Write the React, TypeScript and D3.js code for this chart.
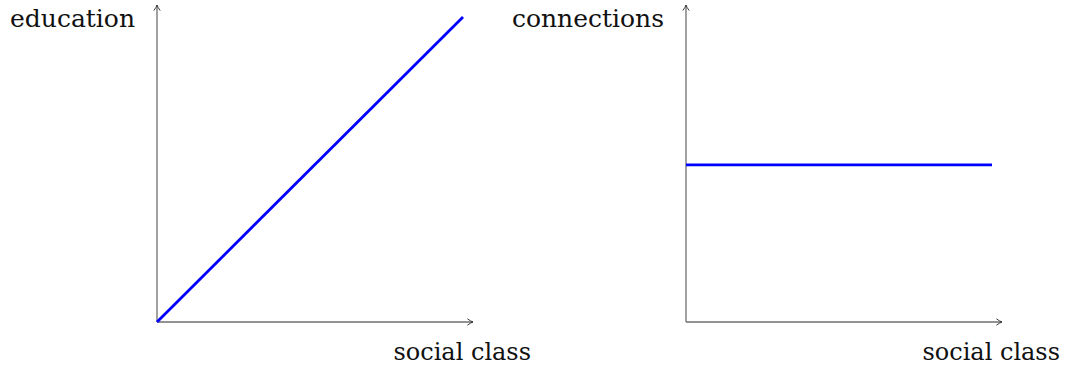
import { useEffect, useRef } from "react";
import * as d3 from "d3";

// two sketch panels: social class vs education / connections
const PANELS = ["education", "connections"];
const X_LABEL = "social class";
const SOCIAL_CLASS = [0, 1];
const EDUCATION = [0, 1];
const CONNECTIONS = [0.515, 0.515];

const SERIES = [EDUCATION, CONNECTIONS];

const FONT = "DejaVu Serif";

export default function App() {
  const svgRef = useRef<SVGSVGElement>(null);

  useEffect(() => {
    const width = 1068;
    const height = 369;
    const svg = d3.select(svgRef.current);
    svg.selectAll("*").remove();
    svg.attr("width", width).attr("height", height);

    const defs = svg.append("defs");
    defs
      .append("marker")
      .attr("id", "tip")
      .attr("viewBox", "0 0 10 10")
      .attr("refX", 9)
      .attr("refY", 5)
      .attr("markerWidth", 8)
      .attr("markerHeight", 8)
      .attr("markerUnits", "userSpaceOnUse")
      .attr("orient", "auto")
      .append("path")
      .attr("d", "M2,1 Q6,4 9,5 Q6,6 2,9")
      .attr("fill", "none")
      .attr("stroke", "#333")
      .attr("stroke-width", 1.2);

    const origins = [157, 686];
    const plotW = 306;
    const axisExtra = 10;
    const bottom = 322;
    const top = 17;

    PANELS.forEach((label, i) => {
      const x = d3.scaleLinear().domain([0, 1]).range([origins[i], origins[i] + plotW]);
      const y = d3.scaleLinear().domain([0, 1]).range([bottom, top]);
      const g = svg.append("g");

      // axes
      g.append("line")
        .attr("x1", x(0))
        .attr("y1", y(0))
        .attr("x2", x(1) + axisExtra)
        .attr("y2", y(0))
        .attr("stroke", "#6e6e6e")
        .attr("stroke-width", 1.3)
        .attr("marker-end", "url(#tip)");
      g.append("line")
        .attr("x1", x(0))
        .attr("y1", y(0))
        .attr("x2", x(0))
        .attr("y2", y(1) - 12)
        .attr("stroke", "#6e6e6e")
        .attr("stroke-width", 1.3)
        .attr("marker-end", "url(#tip)");

      const line = d3
        .line<number>()
        .x((_, j) => x(SOCIAL_CLASS[j]))
        .y((d) => y(d));

      g.append("path")
        .datum(SERIES[i])
        .attr("fill", "none")
        .attr("stroke", "#0000ff")
        .attr("stroke-width", 2.8)
        .attr("d", line);

      g.append("text")
        .attr("x", x(0) - 22)
        .attr("y", 27)
        .attr("text-anchor", "end")
        .style("font-family", FONT)
        .style("font-size", "25px")
        .attr("fill", "#111")
        .text(label);

      g.append("text")
        .attr("x", x(1) + axisExtra + 58)
        .attr("y", 360)
        .attr("text-anchor", "end")
        .style("font-family", FONT)
        .style("font-size", "24px")
        .attr("fill", "#111")
        .text(X_LABEL);
    });
  }, []);

  return (
    <svg
      ref={svgRef}
      style={{ position: "absolute", left: 0, top: 0, display: "block" }}
    />
  );
}
